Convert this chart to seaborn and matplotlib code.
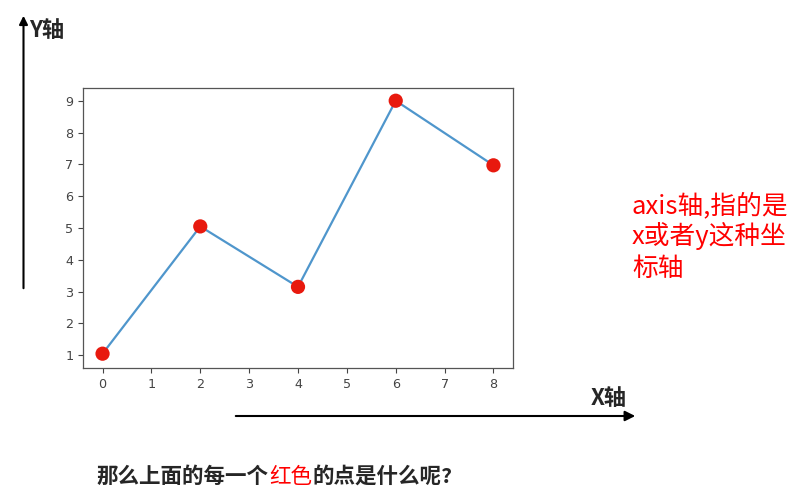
import matplotlib
matplotlib.use("Agg")
import matplotlib.pyplot as plt
import seaborn as sns
import pandas as pd

# line data and the red points drawn on top
x_vals = [0, 2, 4, 6, 8]
y_line = [1.05, 5.05, 3.15, 9.0, 6.97]
y_points = [1.05, 5.05, 3.15, 9.0, 6.97]
x_ticks = [0, 1, 2, 3, 4, 5, 6, 7, 8]
y_ticks = [1, 2, 3, 4, 5, 6, 7, 8, 9]
note_lines = ["axis轴,指的是", "x或者y这种坐", "标轴"]

df = pd.DataFrame({"x": x_vals, "y": y_line, "p": y_points})

sns.set_style("white")
plt.rcParams["font.family"] = ["Noto Sans CJK SC", "DejaVu Sans"]

fig = plt.figure(figsize=(8.04, 5.01), dpi=100)
ax = fig.add_axes([83 / 804, 133 / 501, 430 / 804, 280 / 501])

sns.lineplot(data=df, x="x", y="y", ax=ax, color="#4f96cc", linewidth=1.6)
sns.scatterplot(data=df, x="x", y="p", ax=ax, color="#e8190e", s=105,
                edgecolor="none", zorder=3)

ax.set_xlim(-0.4, 8.4)
ax.set_ylim(0.6, 9.4)
ax.set_xticks(x_ticks)
ax.set_yticks(y_ticks)
ax.set_xlabel("")
ax.set_ylabel("")
ax.tick_params(axis="both", labelsize=9.2, colors="#444444", length=3.5,
               width=0.8, bottom=True, left=True)
for tl in ax.get_xticklabels() + ax.get_yticklabels():
    tl.set_family("DejaVu Sans")
for sp in ax.spines.values():
    sp.set_color("#555555")
    sp.set_linewidth(0.9)

# axis arrows drawn around the chart
fig.add_artist(matplotlib.patches.FancyArrowPatch(
    (23.5 / 804, 1 - 291 / 501), (23.5 / 804, 1 - 13 / 501),
    transform=fig.transFigure, arrowstyle="-|>,head_length=5,head_width=2.5",
    color="black", linewidth=1.5, mutation_scale=1))
fig.add_artist(matplotlib.patches.FancyArrowPatch(
    (233 / 804, 1 - 416 / 501), (638 / 804, 1 - 416 / 501),
    transform=fig.transFigure, arrowstyle="-|>,head_length=6,head_width=3",
    color="black", linewidth=1.5, mutation_scale=1))

fig.text(29 / 804, 1 - 37 / 501, "Y轴", fontsize=16, fontweight="bold",
         va="baseline", ha="left")
fig.text(591 / 804, 1 - 405 / 501, "X轴", fontsize=16, fontweight="bold",
         va="baseline", ha="left")

for i, line in enumerate(note_lines):
    fig.text(632 / 804, 1 - (213 + 31.5 * i) / 501, line, fontsize=18.5,
             color="#ff0000", va="baseline", ha="left")

# bottom question, with 红色 in red
t1 = fig.text(97 / 804, 1 - 483 / 501, "那么上面的每一个", fontsize=15.5,
              fontweight="bold", va="baseline", ha="left")
t2 = fig.text(0, 0, "红色", fontsize=15.5, color="#ff0000",
              va="baseline", ha="left")
fig.canvas.draw()
r = fig.canvas.get_renderer()
bb = t1.get_window_extent(r)
t2.set_position((bb.x1 / fig.bbox.width, t1.get_position()[1]))
fig.canvas.draw()
bb2 = t2.get_window_extent(r)
fig.text(bb2.x1 / fig.bbox.width, t1.get_position()[1], "的点是什么呢?",
         fontsize=15.5, fontweight="bold", va="baseline", ha="left")

fig.savefig("out.png", dpi=100)
